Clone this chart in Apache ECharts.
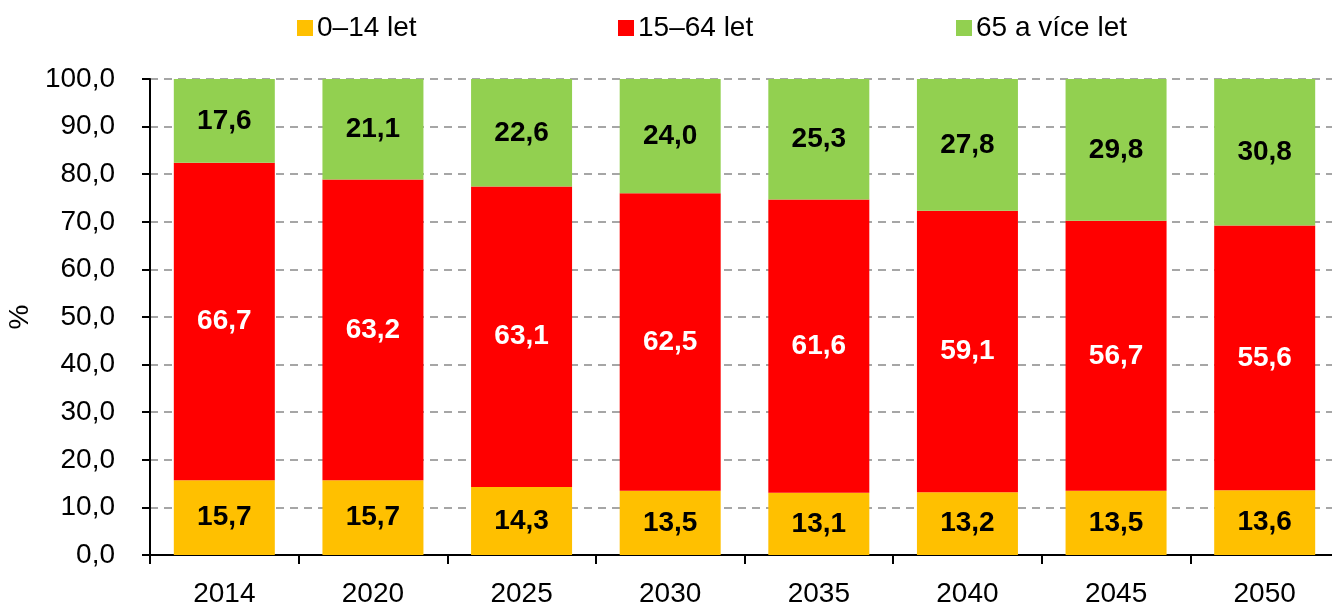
<!DOCTYPE html>
<html>
<head>
<meta charset="utf-8">
<script src="https://cdn.jsdelivr.net/npm/echarts@6/dist/echarts.min.js"></script>
<style>
  html, body { margin: 0; padding: 0; background: #fff; }
</style>
</head>
<body>
<div id="main" style="width: 1332px;height:605px;"></div>
<script>
// roky a podíly věkových skupin (%)
var years = ["2014", "2020", "2025", "2030", "2035", "2040", "2045", "2050"];
var age0_14 = [15.7, 15.7, 14.3, 13.5, 13.1, 13.2, 13.5, 13.6];
var age15_64 = [66.7, 63.2, 63.1, 62.5, 61.6, 59.1, 56.7, 55.6];
var age65 = [17.6, 21.1, 22.6, 24.0, 25.3, 27.8, 29.8, 30.8];
var seriesNames = ["0–14 let", "15–64 let", "65 a více let"];

var font = "Liberation Sans, Arial, sans-serif";
var myChart = echarts.init(document.getElementById("main"));

// desetinná čárka
function cz(v) {
  return v.toFixed(1).replace(".", ",");
}

function bar(name, data, color, labelColor) {
  return {
    name: name,
    type: "bar",
    stack: "total",
    barWidth: 101,
    itemStyle: { color: color },
    label: {
      show: true,
      position: "inside",
      formatter: function (p) { return cz(p.value); },
      color: labelColor,
      fontFamily: font,
      fontWeight: "bold",
      fontSize: 28
    },
    data: data
  };
}

function legendItem(left, name) {
  return {
    top: 9,
    left: left,
    data: [name],
    icon: "rect",
    itemWidth: 16,
    itemHeight: 16,
    itemGap: 0,
    textStyle: { fontFamily: font, fontSize: 28, color: "#000", padding: [0, 0, 0, -1] },
    selectedMode: false
  };
}

var option = {
  animation: false,
  color: ["#FFC000", "#FF0000", "#92D050"],
  legend: [
    legendItem(292, seriesNames[0]),
    legendItem(613, seriesNames[1]),
    legendItem(951, seriesNames[2])
  ],
  grid: {
    left: 150,
    right: -7,
    top: 79,
    bottom: 50,
    outerBoundsMode: "none"
  },
  xAxis: {
    type: "category",
    data: years,
    axisLine: { lineStyle: { color: "#000", width: 2 } },
    axisTick: { show: true, length: 9, lineStyle: { color: "#000", width: 2 } },
    axisLabel: { color: "#000", fontFamily: font, fontSize: 28, margin: 25 }
  },
  yAxis: {
    type: "value",
    min: 0,
    max: 100,
    interval: 10,
    name: "%",
    nameLocation: "middle",
    nameRotate: 90,
    nameGap: 107,
    nameTextStyle: { color: "#000", fontFamily: font, fontSize: 28 },
    axisLine: { show: true, lineStyle: { color: "#000", width: 2 } },
    axisTick: { show: true, length: 8, lineStyle: { color: "#000", width: 2 } },
    axisLabel: {
      color: "#000",
      fontFamily: font,
      fontSize: 28,
      margin: 35,
      formatter: function (v) { return cz(v); }
    },
    splitLine: { lineStyle: { color: "#A6A6A6", type: [8, 6], width: 2 } }
  },
  series: [
    bar(seriesNames[0], age0_14, "#FFC000", "#000"),
    bar(seriesNames[1], age15_64, "#FF0000", "#fff"),
    bar(seriesNames[2], age65, "#92D050", "#000")
  ]
};

myChart.setOption(option);
</script>
</body>
</html>
